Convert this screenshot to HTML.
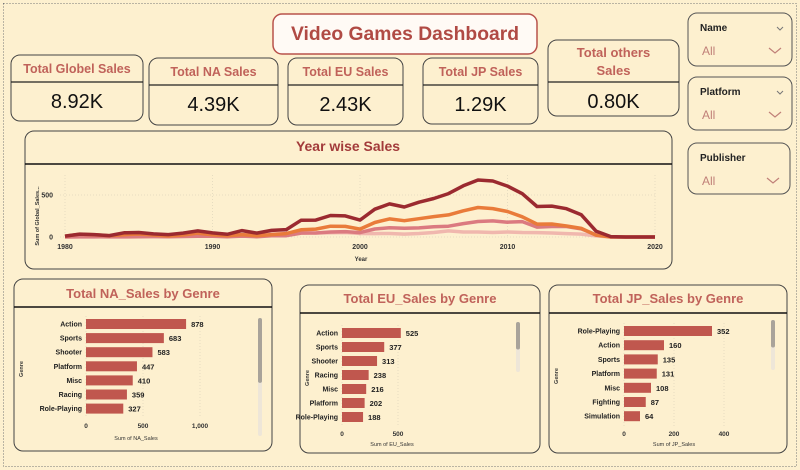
<!DOCTYPE html>
<html><head><meta charset="utf-8"><style>
html,body{margin:0;padding:0;background:#fdf0cf;}
svg{display:block;font-family:"Liberation Sans",sans-serif;}
</style></head><body>
<svg id="s" width="800" height="470" viewBox="0 0 800 470">
<rect x="0" y="0" width="800" height="470" fill="#fdf0cf"/>
<rect x="3.5" y="3.5" width="793" height="463" fill="none" stroke="#777" stroke-dasharray="1,2"/>
<g>
<rect x="273" y="14" width="264" height="40" rx="9" fill="#fffaf5" stroke="#b8524c" stroke-width="1.5"/>
<text x="405" y="40" text-anchor="middle" font-size="19" font-weight="bold" fill="#b04a44" textLength="228" lengthAdjust="spacingAndGlyphs">Video Games Dashboard</text>
</g>
<g id="kpis"></g>
<g id="slicers"></g>
<g>
<rect x="25" y="131" width="647" height="138" rx="9" fill="#fdf0cf" stroke="#444" stroke-width="1"/>
<text x="348" y="151" text-anchor="middle" font-size="14" font-weight="bold" fill="#a23a3a" textLength="104" lengthAdjust="spacingAndGlyphs">Year wise Sales</text>
<line x1="25" y1="164" x2="672" y2="164" stroke="#111" stroke-width="1.5"/>
<text transform="translate(39,216) rotate(-90)" text-anchor="middle" font-size="5.5" font-weight="bold" fill="#333">Sum of Global_Sales...</text>
<text x="361" y="261" text-anchor="middle" font-size="6" font-weight="bold" fill="#333">Year</text>
<g id="line"></g>
</g>
<g id="bars"></g>
</svg>
<script>
const NS='http://www.w3.org/2000/svg';
function mk(p,tag,a){const e=document.createElementNS(NS,tag);for(const k in a)e.setAttribute(k,a[k]);p.appendChild(e);return e;}

// KPI cards
const kpiTitles=['Total Globel Sales','Total NA Sales','Total EU Sales','Total JP Sales','Total others Sales'];
const kpiValues=['8.92K','4.39K','2.43K','1.29K','0.80K'];
const kpiBoxes=[[11,55,132,66,82],[149,58,129,67,85],[288,58,115,67,85],[423,58,115,66,85],[548,40,131,76,82]];
const kg=document.getElementById('kpis');
kpiTitles.forEach((t,i)=>{
 const [x,y,w,h,d]=kpiBoxes[i];
 const g=mk(kg,'g',{});
 
 
 mk(g,'rect',{x:x,y:y,width:w,height:h,rx:9,fill:'#fdf0cf',stroke:'#444'});
 mk(g,'line',{x1:x,x2:x+w,y1:d,y2:d,stroke:'#222','stroke-width':1.2});
 if(i===4){
  let a=mk(g,'text',{x:x+w/2,y:y+17,'text-anchor':'middle','font-size':13,'font-weight':'bold',fill:'#c0625a'});a.textContent='Total others';
  let b=mk(g,'text',{x:x+w/2,y:y+35,'text-anchor':'middle','font-size':13,'font-weight':'bold',fill:'#c0625a'});b.textContent='Sales';
 } else {
  let a=mk(g,'text',{x:x+w/2,y:d-9,'text-anchor':'middle','font-size':12.5,'font-weight':'bold',fill:'#c0625a'});a.textContent=t;
 }
 let v=mk(g,'text',{x:x+w/2,y:d+26,'text-anchor':'middle','font-size':20,fill:'#111'});v.textContent=kpiValues[i];
});

// slicers
const slicerNames=['Name','Platform','Publisher'];
const slicerBoxes=[[688,13,104,53,true],[688,77,104,53,true],[688,143,102,51,false]];
const sg=document.getElementById('slicers');
slicerNames.forEach((n,i)=>{
 const [x,y,w,h,chev]=slicerBoxes[i];
 const g=mk(sg,'g',{});
 
 
 mk(g,'rect',{x:x,y:y,width:w,height:h,rx:9,fill:'#fdf0cf',stroke:'#555'});
 let t=mk(g,'text',{x:x+12,y:y+18,'font-size':10,'font-weight':'bold',fill:'#222'});t.textContent=n;
 let a=mk(g,'text',{x:x+14,y:y+42,'font-size':12,fill:'#c08078'});a.textContent='All';
 mk(g,'polyline',{points:`${x+w-23},${y+35} ${x+w-17},${y+40} ${x+w-11},${y+35}`,fill:'none',stroke:'#c08078','stroke-width':1.2});
 if(chev) mk(g,'polyline',{points:`${x+w-15},${y+14} ${x+w-12},${y+17} ${x+w-9},${y+14}`,fill:'none',stroke:'#777','stroke-width':1});
});

// line chart data
const years=[];for(let y=1980;y<=2020;y++)years.push(y);
const globalSales=[11,35,29,17,50,53,37,29,47,73,49,32,76,46,79,88,199,201,256,251,201,331,394,357,414,458,517,609,678,667,606,515,363,368,337,264,70,5,0,0,0];
const naSales=[10,33,27,16,27,36,24,12,24,45,26,16,29,15,28,40,86,94,128,126,94,173,216,194,218,243,263,312,351,338,304,241,154,155,131,102,22,0,0,0,0];
const euSales=[0,2,2,1,1,2,5,3,6,8,8,4,11,4,14,15,47,48,60,64,52,95,110,104,108,121,129,160,184,192,176,183,118,125,125,97,26,1,0,0,0];
const jpSales=[0,0,0,8,14,14,19,11,15,18,15,15,27,21,34,45,57,48,50,53,42,40,42,35,42,54,73,60,60,54,60,53,52,48,40,34,13,0,0,0,0];
const yearTicks=[1980,1990,2000,2010,2020];
const valTicks=[0,500];
const X=y=>65+(y-1980)*14.75, Y=v=>237-v*0.084;
const lg=document.getElementById('line');
yearTicks.forEach(t=>{
 mk(lg,'line',{x1:X(t),x2:X(t),y1:175,y2:237,stroke:'#e6dcc0','stroke-dasharray':'1,2'});
 let e=mk(lg,'text',{x:X(t),y:249,'text-anchor':'middle','font-size':7,'font-weight':'bold',fill:'#333'});e.textContent=t;
});
valTicks.forEach(t=>{
 mk(lg,'line',{x1:60,x2:655,y1:Y(t),y2:Y(t),stroke:'#e6dcc0','stroke-dasharray':'1,2'});
 let e=mk(lg,'text',{x:53,y:Y(t)+2.5,'text-anchor':'end','font-size':7,'font-weight':'bold',fill:'#333'});e.textContent=t;
});
const series=[[jpSales,'#f0b7ae','jp-sales-line'],[euSales,'#db7a80','eu-sales-line'],[naSales,'#e97b3a','na-sales-line'],[globalSales,'#9b2a30','global-sales-line']];
series.forEach(([d,c,n])=>{
 const p=mk(lg,'path',{d:d.map((v,i)=>(i?'L':'M')+X(years[i]).toFixed(1)+','+Y(v).toFixed(1)).join(''),fill:'none',stroke:c,'stroke-width':3.5,'stroke-linejoin':'round'});
 
 
});

// bar charts
const naGenres=['Action','Sports','Shooter','Platform','Misc','Racing','Role-Playing'];
const naValues=[878,683,583,447,410,359,327];
const naTicks=[0,500,1000];
const naTickLabels=['0','500','1,000'];
const euGenres=['Action','Sports','Shooter','Racing','Misc','Platform','Role-Playing'];
const euValues=[525,377,313,238,216,202,188];
const euTicks=[0,500];
const euTickLabels=['0','500'];
const jpGenres=['Role-Playing','Action','Sports','Platform','Misc','Fighting','Simulation'];
const jpValues=[352,160,135,131,108,87,64];
const jpTicks=[0,200,400];
const jpTickLabels=['0','200','400'];

const charts=[
 {name:'na',title:'Total NA_Sales by Genre',box:[14,279,258,172],titleY:298,sep:307,x0:86,scale:0.114,y0:324,step:14.1,g:naGenres,v:naValues,t:naTicks,tl:naTickLabels,tickY:428,xt:'Sum of NA_Sales',xtY:440,sb:[258,318,118]},
 {name:'eu',title:'Total EU_Sales by Genre',box:[300,285,240,168],titleY:303,sep:313,x0:342,scale:0.112,y0:333,step:14,g:euGenres,v:euValues,t:euTicks,tl:euTickLabels,tickY:436,xt:'Sum of EU_Sales',xtY:446,sb:[516,322,50]},
 {name:'jp',title:'Total JP_Sales by Genre',box:[549,285,238,168],titleY:303,sep:313,x0:624,scale:0.25,y0:331,step:14.2,g:jpGenres,v:jpValues,t:jpTicks,tl:jpTickLabels,tickY:436,xt:'Sum of JP_Sales',xtY:446,sb:[771,320,50]}
];
const bg=document.getElementById('bars');
charts.forEach(c=>{
 const g=mk(bg,'g',{});
 
 
 const [x,y,w,h]=c.box;
 mk(g,'rect',{x:x,y:y,width:w,height:h,rx:9,fill:'#fdf0cf',stroke:'#444'});
 let tt=mk(g,'text',{x:x+w/2,y:c.titleY,'text-anchor':'middle','font-size':13,'font-weight':'bold',fill:'#c0625a'});tt.textContent=c.title;
 mk(g,'line',{x1:x,x2:x+w,y1:c.sep,y2:c.sep,stroke:'#111','stroke-width':1.5});
 let yt=mk(g,'text',{transform:`translate(${x+9},${c.y0+45}) rotate(-90)`,'text-anchor':'middle','font-size':5.5,'font-weight':'bold',fill:'#333'});yt.textContent='Genre';
 c.t.forEach((t,i)=>{
  const tx=c.x0+t*c.scale;
  mk(g,'line',{x1:tx,x2:tx,y1:c.y0-8,y2:c.tickY-10,stroke:'#e6dcc0','stroke-dasharray':'1,2'});
  let e=mk(g,'text',{x:tx,y:c.tickY,'text-anchor':'middle','font-size':6.5,'font-weight':'bold',fill:'#333'});e.textContent=c.tl[i];
 });
 let xt=mk(g,'text',{x:c.x0+50,y:c.xtY,'text-anchor':'middle','font-size':5.5,fill:'#333'});xt.textContent=c.xt;
 c.g.forEach((gn,i)=>{
  const cy=c.y0+i*c.step;
  const r=mk(g,'rect',{x:c.x0,y:cy-5,width:c.v[i]*c.scale,height:10,fill:'#c0574e'});
  
  
  let l=mk(g,'text',{x:c.x0-4,y:cy+2.5,'text-anchor':'end','font-size':7,'font-weight':'bold',fill:'#222'});l.textContent=gn;
  let v=mk(g,'text',{x:c.x0+c.v[i]*c.scale+5,y:cy+3,'font-size':7.5,'font-weight':'bold',fill:'#222'});v.textContent=c.v[i];
 });
 const [sx,sy,sh]=c.sb;
 mk(g,'rect',{x:sx,y:sy,width:4,height:sh,rx:2,fill:'#eee6d8'});
 const th=mk(g,'rect',{x:sx,y:sy,width:4,height:sh*0.55,rx:2,fill:'#a9a39a'});
 
 
});
</script>
</body></html>
